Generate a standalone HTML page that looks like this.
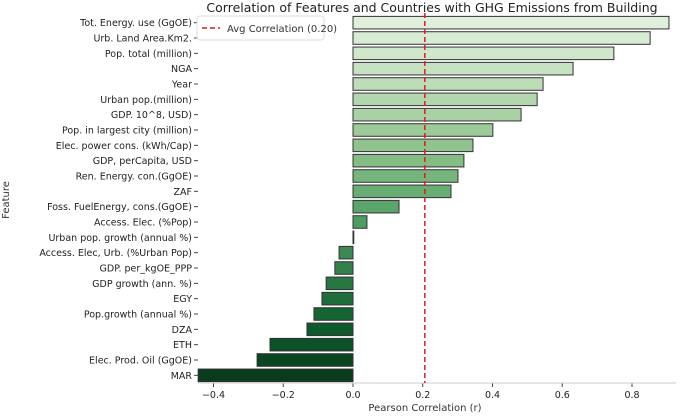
<!DOCTYPE html>
<html><head><meta charset="utf-8"><style>
body{margin:0;background:#fff;font-family:"DejaVu Sans","Liberation Sans",sans-serif;}
svg text{font-family:"DejaVu Sans","Liberation Sans",sans-serif;}
</style></head><body>
<svg id="c" width="685" height="414" xmlns="http://www.w3.org/2000/svg">
<text x="432" y="12" font-size="12.5" text-anchor="middle" fill="#222">Correlation of Features and Countries with GHG Emissions from Building</text>
<g id="bars"></g><g id="ylabels"></g><g id="xaxis"></g>
<line x1="198" y1="383" x2="676" y2="383" stroke="#ccc" stroke-width="1"/>
<text x="425" y="411" font-size="10" text-anchor="middle" fill="#333">Pearson Correlation (r)</text>
<text transform="translate(9,200) rotate(-90)" font-size="10" text-anchor="middle" fill="#333">Feature</text>
<line id="avg" y1="13" y2="383" stroke="#e31a1c" stroke-width="1.5" stroke-dasharray="5,3"/>
<g>
<rect x="197" y="16" width="127" height="24" rx="3" fill="#fff" fill-opacity="0.85" stroke="#ddd"/>
<line x1="202" y1="28" x2="220" y2="28" stroke="#e31a1c" stroke-width="1.5" stroke-dasharray="5,3"/>
<text x="227" y="32" font-size="10" fill="#333">Avg Correlation (0.20)</text>
</g>
</svg>
<script>
const categories=["Tot. Energy. use (GgOE)","Urb. Land Area.Km2.","Pop. total (million)","NGA","Year","Urban pop.(million)","GDP. 10^8, USD)","Pop. in largest city (million)","Elec. power cons. (kWh/Cap)","GDP, perCapita, USD","Ren. Energy. con.(GgOE)","ZAF","Foss. FuelEnergy, cons.(GgOE)","Access. Elec. (%Pop)","Urban pop. growth (annual %)","Access. Elec, Urb. (%Urban Pop)","GDP. per_kgOE_PPP","GDP growth (ann. %)","EGY","Pop.growth (annual %)","DZA","ETH","Elec. Prod. Oil (GgOE)","MAR"];
const values=[0.906,0.852,0.748,0.631,0.545,0.528,0.482,0.401,0.344,0.318,0.301,0.281,0.132,0.04,0.002,-0.04,-0.052,-0.077,-0.089,-0.112,-0.132,-0.238,-0.275,-0.444];
const xTicks=[-0.4,-0.2,0.0,0.2,0.4,0.6,0.8];
const avgValue=0.206;
const NS="http://www.w3.org/2000/svg";
const x=v=>353+v*348.75;
const n=categories.length;
const yTop=15, yBot=383, step=(yBot-yTop)/n, bh=step*0.82;
const y=i=>yTop+i*step+step/2;
const stops=[[229,245,224],[199,233,192],[161,217,155],[116,196,118],[65,171,93],[35,139,69],[0,109,44],[0,68,27]];
function desat(c,s){const m=Math.max(...c)/255,mi=Math.min(...c)/255,l=(m+mi)/2;return c.map(v=>Math.round((l+(v/255-l)*s)*255));}
function green(t){const p=t*(stops.length-1),k=Math.min(stops.length-2,Math.floor(p)),f=p-k;const c=stops[k].map((c,j)=>c+(stops[k+1][j]-c)*f);return `rgb(${desat(c,0.75).join(',')})`;}
const gb=document.getElementById('bars'),gy=document.getElementById('ylabels'),gx=document.getElementById('xaxis');
values.forEach((v,i)=>{
 const r=document.createElementNS(NS,'rect');
 
 
 r.setAttribute('x',Math.min(x(0),x(v)));r.setAttribute('width',Math.max(0.8,Math.abs(x(v)-x(0))));
 r.setAttribute('y',y(i)-bh/2);r.setAttribute('height',bh);
 r.setAttribute('fill',green(0.03+0.97*i/(n-1)));r.setAttribute('stroke','#333');r.setAttribute('stroke-width','1');
 gb.appendChild(r);
 const t=document.createElementNS(NS,'text');
 
 
 t.setAttribute('x',192);t.setAttribute('y',y(i)+3.5);t.setAttribute('font-size','9.5');t.setAttribute('text-anchor','end');t.setAttribute('fill','#222');
 t.textContent=categories[i];gy.appendChild(t);
 const tk=document.createElementNS(NS,'line');
 
 
 tk.setAttribute('x1',194);tk.setAttribute('x2',198);tk.setAttribute('y1',y(i));tk.setAttribute('y2',y(i));tk.setAttribute('stroke','#444');
 gy.appendChild(tk);
});
xTicks.forEach(v=>{
 const l=document.createElementNS(NS,'line');
 
 
 l.setAttribute('x1',x(v));l.setAttribute('x2',x(v));l.setAttribute('y1',383);l.setAttribute('y2',387);l.setAttribute('stroke','#444');
 gx.appendChild(l);
 const t=document.createElementNS(NS,'text');
 
 
 t.setAttribute('x',x(v));t.setAttribute('y',398);t.setAttribute('font-size','9.5');t.setAttribute('text-anchor','middle');t.setAttribute('fill','#222');
 t.textContent=(v<0?'\u2212':'')+Math.abs(v).toFixed(1);gx.appendChild(t);
});
const a=document.getElementById('avg');a.setAttribute('x1',x(avgValue));a.setAttribute('x2',x(avgValue));
</script>
</body></html>
